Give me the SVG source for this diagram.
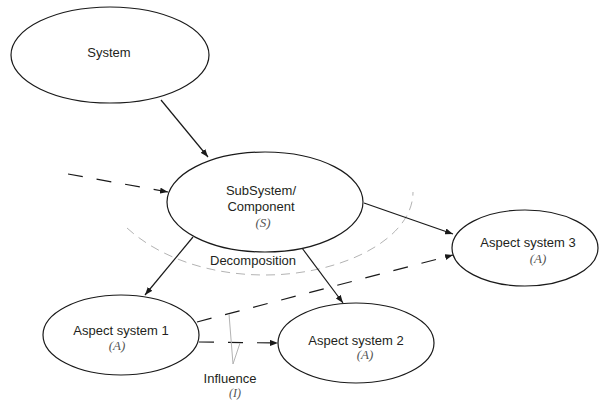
<svg xmlns="http://www.w3.org/2000/svg" width="599" height="402" viewBox="0 0 599 402">
<style>
.node{fill:#fff;stroke:#1a1a1a;stroke-width:1.2}
.lbl{font-family:"Liberation Sans",Arial,sans-serif;font-size:13px;fill:#231f20;text-anchor:middle}
.it{font-family:"Liberation Serif","Times New Roman",serif;font-style:italic;font-size:13px;fill:#555;text-anchor:middle}
.c{stroke:#1a1a1a;stroke-width:1.2;fill:none}
.d{stroke-dasharray:15 14}
.g{stroke:#b3b3b3;stroke-width:1;fill:none}
</style>
<defs>
<marker id="ah" markerUnits="userSpaceOnUse" markerWidth="9" markerHeight="6" refX="8" refY="3" orient="auto">
<path d="M0,0 L8,3 L0,6 z" fill="#1a1a1a"/>
</marker>
</defs>
<rect width="599" height="402" fill="#fff"/>
<g id="decomposition">
<path class="g" d="M127,228 C160,258 210,275 265,275 C340,275 413,240 413,192" stroke-dasharray="9 6"/>
<text class="lbl" x="253" y="265">Decomposition</text>
</g>
<g id="connectors">
<line class="c" x1="161" y1="100" x2="208" y2="157" marker-end="url(#ah)"/>
<line class="c d" x1="68" y1="174" x2="168" y2="192" marker-end="url(#ah)"/>
<line class="c" x1="193" y1="237" x2="145" y2="295" marker-end="url(#ah)"/>
<line class="c" x1="302" y1="248" x2="343" y2="303" marker-end="url(#ah)"/>
<line class="c" x1="364" y1="203" x2="453" y2="234" marker-end="url(#ah)"/>
<line class="c d" x1="197" y1="322" x2="453" y2="255" marker-end="url(#ah)"/>
<line class="c d" x1="199" y1="342" x2="278" y2="343" marker-end="url(#ah)"/>
</g>
<g id="influence">
<polyline class="g" points="229,314 233,364 240,343"/>
<text class="lbl" x="230" y="383">Influence</text>
<text class="it" x="235" y="397" style="font-size:12px">(I)</text>
</g>
<g id="system">
<ellipse class="node" cx="110" cy="55" rx="99" ry="48"/>
<text class="lbl" x="109" y="57">System</text>
</g>
<g id="subsystem">
<ellipse class="node" cx="265" cy="202" rx="98" ry="50"/>
<text class="lbl" x="261" y="195">SubSystem/</text>
<text class="lbl" x="261" y="211">Component</text>
<text class="it" x="263" y="227">(S)</text>
</g>
<g id="aspect1">
<ellipse class="node" cx="121" cy="335" rx="78" ry="40"/>
<text class="lbl" x="121" y="335">Aspect system 1</text>
<text class="it" x="117" y="350">(A)</text>
</g>
<g id="aspect2">
<ellipse class="node" cx="356" cy="343" rx="78" ry="40"/>
<text class="lbl" x="356" y="345">Aspect system 2</text>
<text class="it" x="365" y="359">(A)</text>
</g>
<g id="aspect3">
<ellipse class="node" cx="525" cy="248" rx="73" ry="38"/>
<text class="lbl" x="528" y="247">Aspect system 3</text>
<text class="it" x="538" y="263">(A)</text>
</g>
</svg>
